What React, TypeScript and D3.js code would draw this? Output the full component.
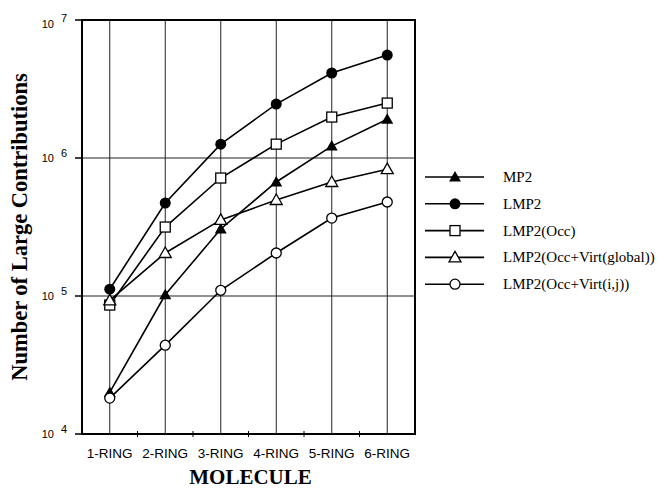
import React from 'react';
import * as d3 from 'd3';

const molecules = ['1-RING', '2-RING', '3-RING', '4-RING', '5-RING', '6-RING'];
const mp2 = [2.0e4, 1.02e5, 3.06e5, 6.7e5, 1.22e6, 1.91e6];
const lmp2 = [1.12e5, 4.72e5, 1.26e6, 2.46e6, 4.13e6, 5.57e6];
const lmp2Occ = [8.6e4, 3.16e5, 7.16e5, 1.26e6, 1.98e6, 2.5e6];
const lmp2Global = [9.3e4, 2.05e5, 3.56e5, 4.96e5, 6.7e5, 8.3e5];
const lmp2Ij = [1.82e4, 4.4e4, 1.1e5, 2.05e5, 3.67e5, 4.8e5];
const decades = [4, 5, 6, 7];

const seriesNames = ['MP2', 'LMP2', 'LMP2(Occ)', 'LMP2(Occ+Virt(global))', 'LMP2(Occ+Virt(i,j))'];
const seriesValues = [mp2, lmp2, lmp2Occ, lmp2Global, lmp2Ij];
const markers = ['triFilled', 'circFilled', 'square', 'triOpen', 'circOpen'];

const W = 660, H = 489;
const plot = { left: 82, right: 415, top: 20, bottom: 434 };
const sans = 'Liberation Sans, Arial, sans-serif';
const serif = 'Liberation Serif, Times New Roman, serif';

const Marker = ({ kind, x, y }: { kind: string; x: number; y: number }) => {
  if (kind === 'circFilled') return <circle cx={x} cy={y} r={5.5} fill="#000" />;
  if (kind === 'circOpen') return <circle cx={x} cy={y} r={5} fill="#fff" stroke="#000" strokeWidth={1.3} />;
  if (kind === 'square') return <rect x={x - 5} y={y - 5} width={10} height={10} fill="#fff" stroke="#000" strokeWidth={1.3} />;
  const s = 6;
  const pts = `${x},${y - s} ${x - s},${y + s * 0.75} ${x + s},${y + s * 0.75}`;
  if (kind === 'triFilled') return <polygon points={pts} fill="#000" />;
  return <polygon points={pts} fill="#fff" stroke="#000" strokeWidth={1.3} />;
};

const App = () => {
  const x = d3.scalePoint<string>().domain(molecules).range([plot.left, plot.right]).padding(0.5);
  const y = d3.scaleLog().domain([1e4, 1e7]).range([plot.bottom, plot.top]);
  const step = x.step();
  const line = d3.line<number>()
    .x((d, i) => x(molecules[i]) as number)
    .y((d) => y(d));

  const legendY = (i: number) => 177 + i * 26.8;

  return (
    <svg width={W} height={H} style={{ position: 'absolute', left: 0, top: 0, background: '#fff' }}>
      {/* grid */}
      {molecules.map((m) => (
        <line key={m} x1={x(m)} x2={x(m)} y1={plot.top} y2={plot.bottom} stroke="#222" strokeWidth={1} />
      ))}
      {[5, 6].map((d) => (
        <line key={d} x1={plot.left} x2={plot.right} y1={y(Math.pow(10, d))} y2={y(Math.pow(10, d))} stroke="#222" strokeWidth={1} />
      ))}
      {/* minor x ticks */}
      {molecules.slice(0, -1).map((m) => (
        <line key={m} x1={(x(m) as number) + step / 2} x2={(x(m) as number) + step / 2} y1={plot.bottom - 3} y2={plot.bottom + 3} stroke="#000" strokeWidth={1} />
      ))}
      {/* frame */}
      <rect x={plot.left} y={plot.top} width={plot.right - plot.left} height={plot.bottom - plot.top} fill="none" stroke="#000" strokeWidth={2} />
      {/* y ticks */}
      {decades.map((d) => (
        <g key={d} transform={`translate(0,${y(Math.pow(10, d))})`}>
          <line x1={plot.left - 7} x2={plot.left} stroke="#000" strokeWidth={1.5} />
          <text x={54} y={d === 7 ? 8 : 4} textAnchor="end" fontFamily={sans} fontSize={11}>
            10
          </text>
          <text x={61} y={d === 7 ? 2 : -1} fontFamily={sans} fontSize={11}>
            {d}
          </text>
        </g>
      ))}
      {/* x tick labels */}
      {molecules.map((m) => (
        <text key={m} x={x(m)} y={458} textAnchor="middle" fontFamily={sans} fontSize={13.5}>
          {m}
        </text>
      ))}
      <text x={(plot.left + plot.right) / 2 + 2} y={484} textAnchor="middle" fontFamily={serif} fontWeight="bold" fontSize={21}>
        MOLECULE
      </text>
      <text transform={`translate(27,${(plot.top + plot.bottom) / 2}) rotate(-90)`} textAnchor="middle" fontFamily={serif} fontWeight="bold" fontSize={22.5}>
        Number of Large Contributions
      </text>
      {/* series */}
      {seriesValues.map((vals, si) => (
        <g key={seriesNames[si]}>
          <path d={line(vals) || ''} fill="none" stroke="#000" strokeWidth={1.6} />
          {vals.map((v, i) => (
            <Marker key={i} kind={markers[si]} x={x(molecules[i]) as number} y={y(v)} />
          ))}
        </g>
      ))}
      {/* legend */}
      {seriesNames.map((n, i) => (
        <g key={n}>
          <line x1={425} x2={484} y1={legendY(i)} y2={legendY(i)} stroke="#000" strokeWidth={1.6} />
          <Marker kind={markers[i]} x={455} y={legendY(i)} />
          <text x={503} y={legendY(i) + 5} fontFamily={serif} fontSize={15}>
            {n}
          </text>
        </g>
      ))}
    </svg>
  );
};

export default App;
